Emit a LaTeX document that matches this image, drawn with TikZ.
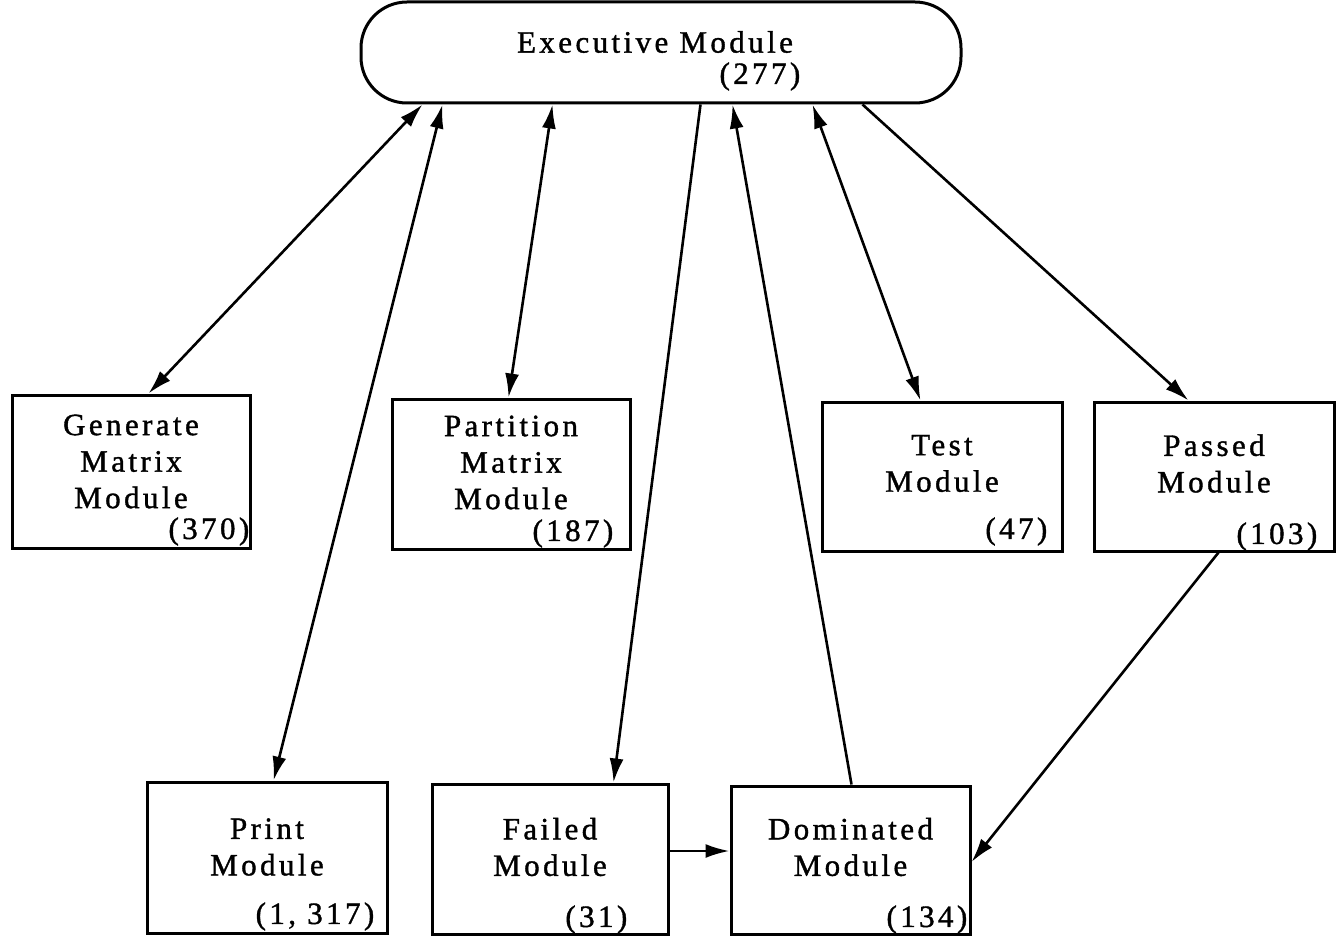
\documentclass[tikz,border=0pt]{standalone}
\usepackage{fontspec}
\setmainfont{Liberation Serif}[LetterSpace=11,FakeBold=1.2]
\usetikzlibrary{arrows.meta}
\begin{document}
\begin{tikzpicture}[x=1pt,y=-1pt,
  module/.style={draw,line width=3pt,inner sep=0pt},
  label text/.style={align=center,inner sep=0pt,font=\fontsize{31}{36.5}\selectfont},
  count/.style={anchor=east,inner sep=0pt,font=\fontsize{31}{34}\selectfont},
  link/.style={line width=2.6pt},
  tip/.tip={Latex[length=24pt,width=14pt]}]
\useasboundingbox (0,0) rectangle (1342,936);

% executive module (rounded)
\node[module,rounded corners=46pt,minimum width=600pt,minimum height=101pt] (exec) at (661,52.5) {};
\node[label text] (exec-t) at ([xshift=-6pt,yshift=10.5pt]exec.center) {Executive Module};
\node[count] (exec-n) at ([xshift=-162pt,yshift=28pt]exec.south east) {(277)};

% middle row
\node[module,minimum width=238pt,minimum height=153pt] (gen) at (131,471.5) {};
\node[label text] (gen-t) at ([yshift=10pt]gen.center) {Generate\\Matrix\\Module};
\node[count] (gen-n) at ([xshift=-2pt,yshift=18pt]gen.south east) {(370)};

\node[module,minimum width=238pt,minimum height=150pt] (part) at (511,474) {};
\node[label text] (part-t) at ([yshift=11.5pt]part.center) {Partition\\Matrix\\Module};
\node[count] (part-n) at ([xshift=-18pt,yshift=17pt]part.south east) {(187)};

\node[module,minimum width=240pt,minimum height=149pt] (test) at (942,476.5) {};
\node[label text] (test-t) at ([yshift=13pt]test.center) {Test\\Module};
\node[count] (test-n) at ([xshift=-16pt,yshift=21pt]test.south east) {(47)};

\node[module,minimum width=240pt,minimum height=149pt] (pass) at (1214,476.5) {};
\node[label text] (pass-t) at ([yshift=13pt]pass.center) {Passed\\Module};
\node[count] (pass-n) at ([xshift=-18pt,yshift=16pt]pass.south east) {(103)};

% bottom row
\node[module,minimum width=240pt,minimum height=151pt] (print) at (267,857.5) {};
\node[label text] (print-t) at ([yshift=10.5pt]print.center) {Print\\Module};
\node[count] (print-n) at ([xshift=-14pt,yshift=18pt]print.south east) {(1, 317)};

\node[module,minimum width=236pt,minimum height=150pt] (fail) at (550,859) {};
\node[label text] (fail-t) at ([yshift=12pt]fail.center) {Failed\\Module};
\node[count] (fail-n) at ([xshift=-42pt,yshift=16pt]fail.south east) {(31)};

\node[module,minimum width=239pt,minimum height=148pt] (dom) at (850.5,860) {};
\node[label text] (dom-t) at ([yshift=13pt]dom.center) {Dominated\\Module};
\node[count] (dom-n) at ([xshift=-4pt,yshift=16pt]dom.south east) {(134)};

% connectors
\draw[link,tip-tip] ([xshift=138pt]gen.north west) -- ([xshift=63pt]exec.south west);
\draw[link,tip-tip] ([xshift=128pt]print.north west) -- ([xshift=83pt]exec.south west);
\draw[link,tip-tip] ([xshift=118pt]part.north west) -- ([xshift=193pt]exec.south west);
\draw[link,-tip] ([xshift=341pt]exec.south west) -- ([xshift=183pt]fail.north west);
\draw[link,-tip] ([xshift=122pt]dom.north west) -- ([xshift=373pt]exec.south west);
\draw[link,tip-tip] ([xshift=100pt]test.north west) -- ([xshift=453pt]exec.south west);
\draw[link,-tip] ([xshift=503pt]exec.south west) -- ([xshift=96pt]pass.north west);
\draw[link,-tip] ([xshift=126pt]pass.south west) -- ([yshift=-2pt]dom.east);
\draw[link,-tip] ([yshift=8pt]fail.east) -- ([yshift=9pt]dom.west);
\end{tikzpicture}
\end{document}
